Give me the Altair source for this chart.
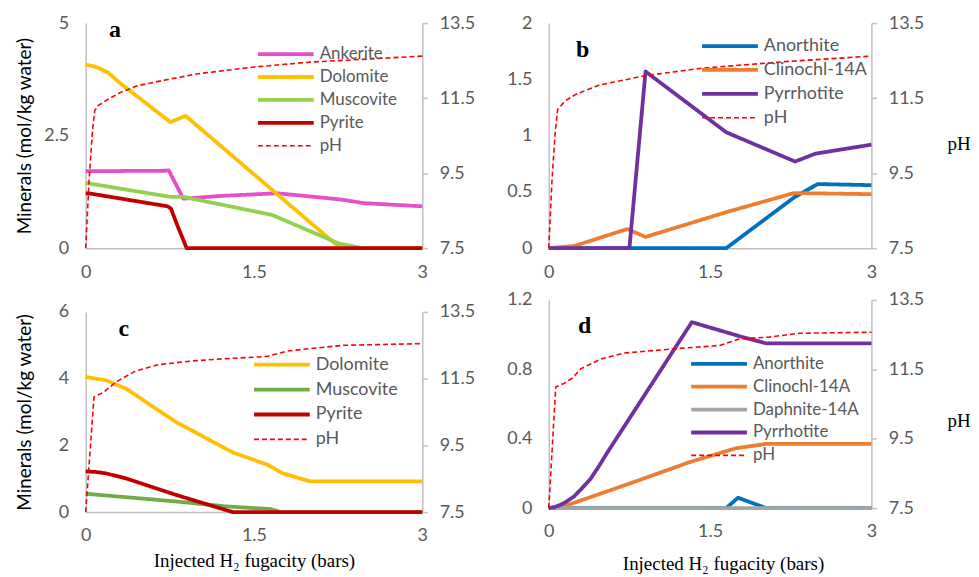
import altair as alt
import pandas as pd

# ---------------- data ----------------
X_TICKS = [0, 1.5, 3]
PH_TICKS = [7.5, 9.5, 11.5, 13.5]

# panel a
A_ANKERITE_X = [0, 0.70, 0.74, 0.87, 1.2, 1.71, 2.28, 2.48, 3.0]
A_ANKERITE_Y = [1.71, 1.72, 1.73, 1.10, 1.16, 1.22, 1.08, 1.00, 0.93]
A_DOLOMITE_X = [0, 0.1, 0.2, 0.3, 0.755, 0.89, 2.27, 3.0]
A_DOLOMITE_Y = [4.08, 4.02, 3.90, 3.68, 2.80, 2.94, 0.0, 0.0]
A_MUSCOVITE_X = [0, 0.755, 0.87, 1.66, 2.26, 2.47, 3.0]
A_MUSCOVITE_Y = [1.45, 1.14, 1.14, 0.74, 0.10, 0.0, 0.0]
A_PYRITE_X = [0, 0.05, 0.73, 0.76, 0.81, 0.90, 3.0]
A_PYRITE_Y = [1.22, 1.21, 0.93, 0.88, 0.55, 0.0, 0.0]
A_PH_X = [0, 0.03, 0.06, 0.08, 0.11, 0.2, 0.31, 0.46, 0.67, 1.0, 1.5, 2.0, 2.5, 3.0]
A_PH_Y = [7.5, 9.3, 10.6, 11.16, 11.3, 11.47, 11.65, 11.83, 11.96, 12.15, 12.33,
          12.46, 12.54, 12.62]
A_YTICKS = [0, 2.5, 5]

# panel b
B_ANORTHITE_X = [0, 1.65, 2.28, 2.5, 3.0]
B_ANORTHITE_Y = [0, 0, 0.45, 0.57, 0.56]
B_CLINOCHL_X = [0, 0.24, 0.73, 0.90, 1.65, 2.28, 3.0]
B_CLINOCHL_Y = [0, 0.02, 0.17, 0.10, 0.32, 0.49, 0.48]
B_PYRRHOTITE_X = [0, 0.75, 0.90, 1.65, 2.29, 2.48, 3.0]
B_PYRRHOTITE_Y = [0, 0, 1.57, 1.03, 0.77, 0.84, 0.92]
B_PH_X = [0, 0.03, 0.06, 0.083, 0.15, 0.25, 0.47, 0.9, 1.43, 2.23, 3.0]
B_PH_Y = [7.5, 9.3, 10.6, 11.2, 11.42, 11.6, 11.85, 12.1, 12.3, 12.48, 12.62]
B_YTICKS = [0, 0.5, 1, 1.5, 2]

# panel c
C_DOLOMITE_X = [0, 0.18, 0.36, 0.80, 1.31, 1.62, 1.75, 2.0, 3.0]
C_DOLOMITE_Y = [4.05, 3.95, 3.70, 2.71, 1.79, 1.42, 1.17, 0.92, 0.92]
C_MUSCOVITE_X = [0, 0.80, 1.25, 1.65, 1.74, 3.0]
C_MUSCOVITE_Y = [0.55, 0.32, 0.17, 0.09, 0.0, 0.0]
C_PYRITE_X = [0, 0.1, 0.18, 0.36, 0.80, 1.31, 3.0]
C_PYRITE_Y = [1.22, 1.20, 1.16, 1.01, 0.52, 0.0, 0.0]
C_PH_X = [0, 0.074, 0.163, 0.27, 0.445, 0.65, 0.95, 1.25, 1.54, 1.62, 1.8, 2.03,
          2.3, 3.0]
C_PH_Y = [7.5, 10.95, 11.1, 11.4, 11.73, 11.92, 12.03, 12.1, 12.15, 12.17, 12.33,
          12.41, 12.5, 12.55]
C_YTICKS = [0, 2, 4, 6]

# panel d
D_ANORTHITE_X = [0, 1.65, 1.76, 2.02, 3.0]
D_ANORTHITE_Y = [0, 0, 0.06, 0, 0]
D_CLINOCHL_X = [0, 0.1, 0.2, 0.35, 0.54, 0.85, 1.31, 1.74, 2.02, 3.0]
D_CLINOCHL_Y = [0, 0.008, 0.023, 0.055, 0.096, 0.163, 0.265, 0.345, 0.37, 0.37]
D_DAPHNITE_X = [0, 3.0]
D_DAPHNITE_Y = [0, 0]
D_PYRRHOTITE_X = [0, 0.05, 0.11, 0.17, 0.235, 0.31, 0.39, 0.47, 0.54, 1.33, 1.78,
                  2.02, 3.0]
D_PYRRHOTITE_Y = [0, 0.005, 0.019, 0.04, 0.067, 0.115, 0.17, 0.245, 0.316, 1.072,
                  0.99, 0.95, 0.95]
D_PH_X = [0, 0.065, 0.14, 0.22, 0.30, 0.48, 0.70, 1.16, 1.59, 1.78, 2.05, 2.33, 3.0]
D_PH_Y = [7.5, 10.99, 11.09, 11.25, 11.52, 11.79, 11.97, 12.09, 12.19, 12.38, 12.43,
          12.54, 12.57]
D_YTICKS = [0, 0.4, 0.8, 1.2]

# ---------------- style ----------------
SANS = "Lato"
SERIF = "Liberation Serif"
LABEL_GRAY = "#595959"
AXIS_GRAY = "#BFBFBF"
PH_COLOR = "#FF0000"
Y_TITLE = "Minerals (mol/kg water)"
X_TITLE = "Injected H\u2082 fugacity (bars)"
LABEL_EXPR = "datum.value + ''"


def panel(series, ph_x, ph_y, ymax, yticks, w, h, letter, letter_xy,
          leg_xy, leg_row, leg_font=18, ytitle=False, xtitle=False,
          phtitle=False, xtitle_x=None, xtitle_y=49):
    rows = []
    names, cols = [], []
    for name, xs, ys, col in series:
        names.append(name)
        cols.append(col)
        for i, (xv, yv) in enumerate(zip(xs, ys)):
            rows.append({"series": name, "x": xv, "y": yv, "i": i})
    df = pd.DataFrame(rows)
    ph_df = pd.DataFrame({"series": "pH", "x": ph_x, "y": ph_y,
                          "i": list(range(len(ph_x)))})
    lab_df = pd.DataFrame({"x": [letter_xy[0]], "y": [letter_xy[1]], "t": [letter]})

    domain = names + ["pH"]
    legend = alt.Legend(orient="none", legendX=leg_xy[0], legendY=leg_xy[1],
                        title=None, symbolType="stroke", symbolSize=3136,
                        clipHeight=leg_row, rowPadding=0, padding=0,
                        labelFont=SANS, labelFontSize=leg_font,
                        labelColor=LABEL_GRAY, labelOffset=4)
    color = alt.Color("series:N", scale=alt.Scale(domain=domain, range=cols + [PH_COLOR]),
                      legend=legend)
    dash = alt.StrokeDash("series:N",
                          scale=alt.Scale(domain=domain,
                                          range=[[1, 0]] * len(names) + [[5, 3]]),
                          legend=legend)
    swidth = alt.StrokeWidth("series:N",
                             scale=alt.Scale(type="ordinal", domain=domain,
                                             range=[3.8] * len(names) + [1.6]),
                             legend=legend)

    xkw = dict(values=X_TICKS, labelExpr=LABEL_EXPR, ticks=False, labelPadding=15,
               labelFlush=False, labelFont=SANS, labelFontSize=18,
               labelColor=LABEL_GRAY, domainColor=AXIS_GRAY, domainWidth=1.5,
               grid=False)
    if xtitle:
        xkw.update(title=X_TITLE, titleFont=SERIF, titleFontSize=19,
                   titleFontWeight="normal", titleColor="black",
                   titleY=xtitle_y, titleBaseline="middle",
                   titleX=(xtitle_x if xtitle_x is not None else w / 2))
    else:
        xkw.update(title=None)
    x_axis = alt.Axis(**xkw)
    x_scale = alt.Scale(domain=[0, 3], nice=False, zero=False)

    ykw = dict(orient="left", values=yticks, labelExpr=LABEL_EXPR, ticks=False,
               labelPadding=17, labelFlush=False, labelFont=SANS, labelFontSize=18,
               labelColor=LABEL_GRAY, domainColor=AXIS_GRAY, domainWidth=1.5,
               grid=False)
    if ytitle:
        ykw.update(title=Y_TITLE, titleFont=SANS, titleFontSize=19,
                   titleFontWeight="normal", titleColor="black",
                   titleAngle=270, titleX=-61, titleY=h / 2,
                   titleBaseline="middle", titleAlign="center")
    else:
        ykw.update(title=None)
    y_axis = alt.Axis(**ykw)
    y_scale = alt.Scale(domain=[0, ymax], nice=False, zero=True)

    pkw = dict(orient="right", values=PH_TICKS, labelExpr=LABEL_EXPR, ticks=True,
               tickSize=5, tickColor=AXIS_GRAY, tickWidth=1.5, labelPadding=12,
               labelFlush=False, labelFont=SANS, labelFontSize=18,
               labelColor=LABEL_GRAY, domainColor=AXIS_GRAY, domainWidth=1.5,
               grid=False)
    if phtitle:
        pkw.update(title="pH", titleFont=SERIF, titleFontSize=19,
                   titleFontWeight="normal", titleColor="black", titleAngle=0,
                   titleX=76, titleY=121, titleAlign="left",
                   titleBaseline="middle")
    else:
        pkw.update(title=None)
    ph_axis = alt.Axis(**pkw)
    ph_scale = alt.Scale(domain=[7.5, 13.5], nice=False, zero=False)

    lines = alt.Chart(df).mark_line(strokeJoin="round").encode(
        x=alt.X("x:Q", scale=x_scale, axis=x_axis),
        y=alt.Y("y:Q", scale=y_scale, axis=y_axis),
        color=color, strokeDash=dash, strokeWidth=swidth,
        order=alt.Order("i:Q"),
    )
    label = alt.Chart(lab_df).mark_text(font=SERIF, fontSize=24,
                                        fontWeight="bold", color="black").encode(
        x=alt.X("x:Q", scale=x_scale, axis=x_axis),
        y=alt.Y("y:Q", scale=y_scale, axis=y_axis),
        text="t:N",
    )
    ph = alt.Chart(ph_df).mark_line().encode(
        x=alt.X("x:Q", scale=x_scale, axis=x_axis),
        y=alt.Y("y:Q", scale=ph_scale, axis=ph_axis),
        color=color, strokeDash=dash, strokeWidth=swidth,
        order=alt.Order("i:Q"),
    )
    left = alt.layer(lines, label)
    return alt.layer(left, ph).resolve_scale(y="independent").properties(
        width=w, height=h)


pa = panel([("Ankerite", A_ANKERITE_X, A_ANKERITE_Y, "#E64FCB"),
            ("Dolomite", A_DOLOMITE_X, A_DOLOMITE_Y, "#FFC000"),
            ("Muscovite", A_MUSCOVITE_X, A_MUSCOVITE_Y, "#92D050"),
            ("Pyrite", A_PYRITE_X, A_PYRITE_Y, "#C00000")],
           A_PH_X, A_PH_Y, 5, A_YTICKS, 338, 226, "a", (0.26, 4.85),
           (171, 20), 22.2, leg_font=17, ytitle=True)

pb = panel([("Anorthite", B_ANORTHITE_X, B_ANORTHITE_Y, "#0070C0"),
            ("Clinochl-14A", B_CLINOCHL_X, B_CLINOCHL_Y, "#ED7D31"),
            ("Pyrrhotite", B_PYRRHOTITE_X, B_PYRRHOTITE_Y, "#7030A0")],
           B_PH_X, B_PH_Y, 2, B_YTICKS, 324, 226, "b", (0.315, 1.76),
           (152, 11), 24, phtitle=True)

pc = panel([("Dolomite", C_DOLOMITE_X, C_DOLOMITE_Y, "#FFC000"),
            ("Muscovite", C_MUSCOVITE_X, C_MUSCOVITE_Y, "#70AD47"),
            ("Pyrite", C_PYRITE_X, C_PYRITE_Y, "#C00000")],
           C_PH_X, C_PH_Y, 6, C_YTICKS, 338, 201, "c", (0.34, 5.49),
           (167, 40.5), 25, ytitle=True, xtitle=True, xtitle_y=49)

pd_ = panel([("Anorthite", D_ANORTHITE_X, D_ANORTHITE_Y, "#0070C0"),
             ("Clinochl-14A", D_CLINOCHL_X, D_CLINOCHL_Y, "#ED7D31"),
             ("Daphnite-14A", D_DAPHNITE_X, D_DAPHNITE_Y, "#A5A5A5"),
             ("Pyrrhotite", D_PYRRHOTITE_X, D_PYRRHOTITE_Y, "#7030A0")],
            D_PH_X, D_PH_Y, 1.2, D_YTICKS, 324, 209, "d", (0.333, 1.05),
            (141, 53), 22.2, leg_font=17, xtitle=True, phtitle=True,
            xtitle_x=175, xtitle_y=56)

IND = dict(color="independent", strokeDash="independent", strokeWidth="independent")

col1 = alt.vconcat(pa, pc, spacing=22).resolve_scale(**IND).resolve_legend(**IND)
col2 = alt.vconcat(pb, pd_, spacing=10).resolve_scale(**IND).resolve_legend(**IND)

chart = (alt.hconcat(col1, col2, spacing=31)
         .resolve_scale(**IND).resolve_legend(**IND)
         .properties(padding={"left": 8, "top": 5, "right": 0, "bottom": 0})
         .configure_view(stroke=None))

chart.save("out.html", embed_options={"renderer": "svg", "actions": False})
